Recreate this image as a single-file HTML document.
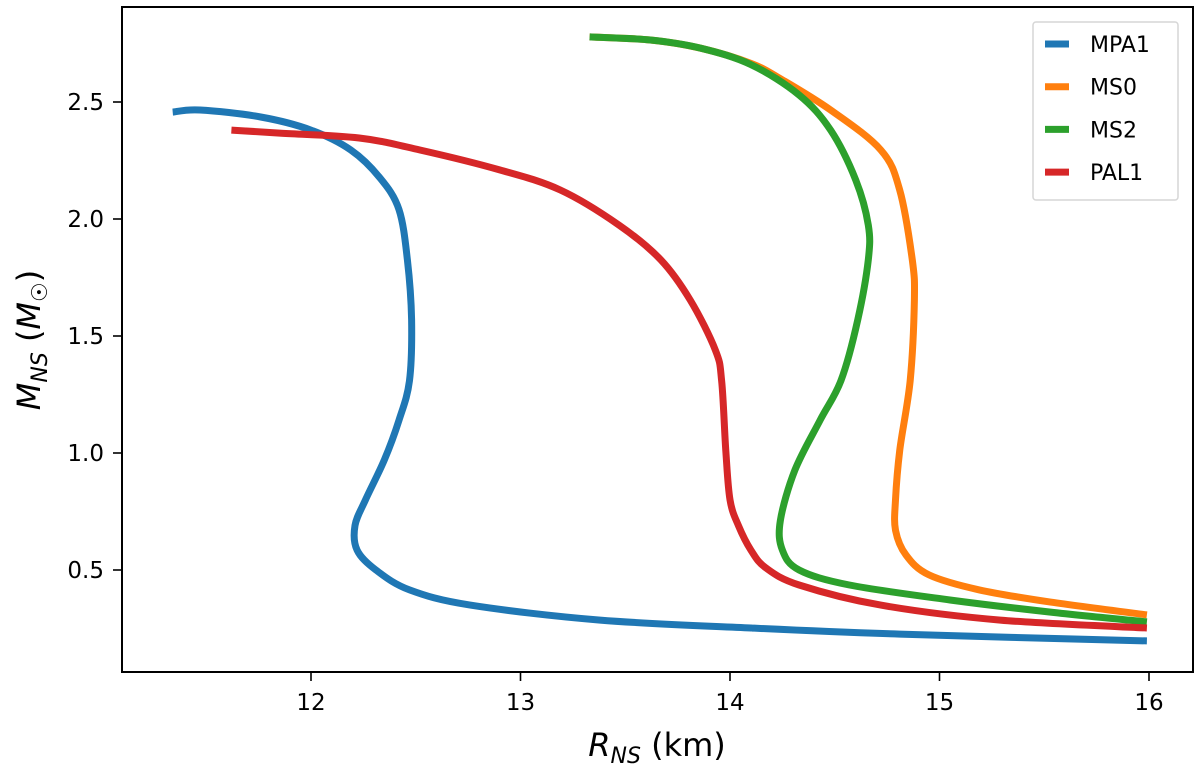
<!DOCTYPE html>
<html><head><meta charset="utf-8"><style>
body{margin:0;background:#fff;}
svg text{font-family:"DejaVu Sans","Liberation Sans",sans-serif;fill:#000;}
</style></head><body>
<svg id="chart" width="1200" height="776" viewBox="0 0 1200 776" xmlns="http://www.w3.org/2000/svg">
<g id="series"></g>
<rect x="122" y="7" width="1071" height="665" fill="none" stroke="#000" stroke-width="2"/>
<g id="xticks"></g>
<g id="yticks"></g>
<text x="657" y="756" font-size="32" text-anchor="middle"><tspan font-style="italic">R</tspan><tspan font-style="italic" font-size="22" dy="7">NS</tspan><tspan dy="-7"> (km)</tspan></text>
<text transform="translate(40,340) rotate(-90)" font-size="32" text-anchor="middle"><tspan font-style="italic">M</tspan><tspan font-style="italic" font-size="22" dy="7">NS</tspan><tspan dy="-7"> (</tspan><tspan font-style="italic">M</tspan><tspan font-size="22" dy="7">☉</tspan><tspan dy="-7">)</tspan></text>
<g id="legend">
<rect x="1033" y="22" width="145" height="178" rx="3" fill="#fff" stroke="#d6d6d6" stroke-width="1.5"/>
</g>
</svg>
<script>
const xTicks=[12,13,14,15,16];
const yTicks=[0.5,1.0,1.5,2.0,2.5];
const names=["MPA1","MS0","MS2","PAL1"];
const colors=["#1f77b4","#ff7f0e","#2ca02c","#d62728"];
const mpa1R=[11.34,11.47,11.76,12.0,12.19,12.33,12.42,12.46,12.48,12.47,12.42,12.35,12.26,12.21,12.22,12.31,12.47,12.76,13.38,14.10,14.81,15.99];
const mpa1M=[2.457,2.466,2.436,2.38,2.295,2.175,2.04,1.825,1.57,1.31,1.14,0.97,0.80,0.69,0.585,0.5,0.415,0.35,0.286,0.252,0.226,0.197];
const ms0R=[13.33,13.62,13.86,14.10,14.24,14.48,14.72,14.81,14.87,14.88,14.86,14.81,14.79,14.79,14.84,14.95,15.19,15.53,15.99];
const ms0M=[2.778,2.765,2.73,2.665,2.60,2.466,2.295,2.124,1.825,1.654,1.31,1.01,0.80,0.67,0.564,0.479,0.415,0.363,0.308];
const ms2R=[13.33,13.62,13.86,14.10,14.33,14.48,14.60,14.66,14.66,14.61,14.53,14.43,14.31,14.24,14.25,14.33,14.57,15.05,15.53,15.99];
const ms2M=[2.778,2.765,2.73,2.66,2.53,2.38,2.167,1.974,1.825,1.57,1.31,1.14,0.927,0.71,0.585,0.5,0.436,0.372,0.32,0.278];
const pal1R=[11.62,11.85,12.23,12.52,12.90,13.19,13.47,13.67,13.81,13.93,13.96,13.98,14.0,14.04,14.10,14.17,14.33,14.72,15.29,15.99];
const pal1M=[2.38,2.367,2.346,2.295,2.21,2.124,1.974,1.825,1.654,1.44,1.31,1.01,0.80,0.69,0.585,0.51,0.436,0.35,0.286,0.252];

const NS="http://www.w3.org/2000/svg";
function xs(r){return 311+(r-12)*209.5;}
function ys(m){return 570-(m-0.5)*234;}
function mk(t,a){const e=document.createElementNS(NS,t);for(const k in a)e.setAttribute(k,a[k]);return e;}
function smooth(pts){
  let d='M'+pts[0][0].toFixed(1)+' '+pts[0][1].toFixed(1);
  for(let i=0;i<pts.length-1;i++){
    const p0=pts[Math.max(0,i-1)],p1=pts[i],p2=pts[i+1],p3=pts[Math.min(pts.length-1,i+2)];
    const c1=[p1[0]+(p2[0]-p0[0])/6,p1[1]+(p2[1]-p0[1])/6];
    const c2=[p2[0]-(p3[0]-p1[0])/6,p2[1]-(p3[1]-p1[1])/6];
    d+=' C'+c1[0].toFixed(1)+' '+c1[1].toFixed(1)+' '+c2[0].toFixed(1)+' '+c2[1].toFixed(1)+' '+p2[0].toFixed(1)+' '+p2[1].toFixed(1);
  }
  return d;
}
const seriesR=[mpa1R,ms0R,ms2R,pal1R], seriesM=[mpa1M,ms0M,ms2M,pal1M];
const sg=document.getElementById('series');
for(let i=0;i<4;i++){
  const pts=seriesR[i].map((r,j)=>[xs(r),ys(seriesM[i][j])]);
  const p=mk('path',{d:smooth(pts),fill:'none',stroke:colors[i],'stroke-width':7,'stroke-linejoin':'round'});
  
  
  sg.appendChild(p);
}
const xg=document.getElementById('xticks');
xTicks.forEach(v=>{
  const x=xs(v);
  const l=mk('line',{x1:x,x2:x,y1:672,y2:681,stroke:'#000','stroke-width':1.6});
  
  
  xg.appendChild(l);
  const t=mk('text',{x:x,y:710,'font-size':23,'text-anchor':'middle'});
  t.textContent=v;
  
  
  xg.appendChild(t);
});
const yg=document.getElementById('yticks');
yTicks.forEach(v=>{
  const y=ys(v);
  const l=mk('line',{x1:113,x2:122,y1:y,y2:y,stroke:'#000','stroke-width':1.6});
  
  
  yg.appendChild(l);
  const t=mk('text',{x:104,y:y+8,'font-size':23,'text-anchor':'end'});
  t.textContent=v.toFixed(1);
  
  
  yg.appendChild(t);
});
const lg=document.getElementById('legend');
names.forEach((n,i)=>{
  const y=44+i*42.7;
  const l=mk('line',{x1:1045,x2:1069,y1:y,y2:y,stroke:colors[i],'stroke-width':7});
  
  
  lg.appendChild(l);
  const t=mk('text',{x:1090,y:y+8,'font-size':22});
  t.textContent=n;
  
  
  lg.appendChild(t);
});
</script>
</body></html>
